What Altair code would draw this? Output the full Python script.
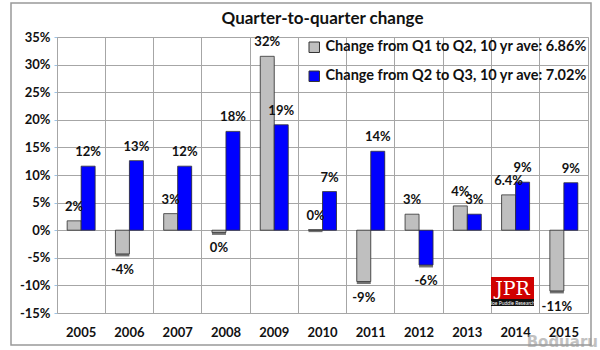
import altair as alt
import pandas as pd

years = ["2005", "2006", "2007", "2008", "2009", "2010", "2011", "2012", "2013", "2014", "2015"]
q1q2 = [1.7, -4.3, 3.0, -0.4, 31.5, 0.1, -9.3, 2.9, 4.4, 6.4, -11.0]
q2q3 = [11.6, 12.6, 11.6, 17.9, 19.1, 7.0, 14.3, -6.3, 2.9, 8.7, 8.6]
q1q2_labels = ["2%", "-4%", "3%", "0%", "32%", "0%", "-9%", "3%", "4%", "6.4%", "-11%"]
q2q3_labels = ["12%", "13%", "12%", "18%", "19%", "7%", "14%", "-6%", "3%", "9%", "9%"]
series_names = ["Change from Q1 to Q2, 10 yr ave: 6.86%", "Change from Q2 to Q3, 10 yr ave: 7.02%"]
series_colors = ["#BFBFBF", "#0000FF"]
y_ticks = [-15, -10, -5, 0, 5, 10, 15, 20, 25, 30, 35]
title_text = "Quarter-to-quarter change"

rows = []
for y, v, l in zip(years, q1q2, q1q2_labels):
    rows.append({"year": y, "value": v, "label": l, "series": series_names[0], "pos": v >= 0})
for y, v, l in zip(years, q2q3, q2q3_labels):
    rows.append({"year": y, "value": v, "label": l, "series": series_names[1], "pos": v >= 0})
df = pd.DataFrame(rows)

FONT = "Lato"
W, H = 531, 276

xenc = alt.X("year:N", sort=years, title=None,
             scale=alt.Scale(paddingInner=0, paddingOuter=0),
             axis=alt.Axis(bandPosition=0, grid=True, gridColor="#A6A6A6",
                           gridWidth=1, ticks=False, domain=False, labelAngle=0,
                           labelFont=FONT, labelFontSize=13, labelFontWeight="bold",
                           labelColor="#111", labelPadding=13))
xoff = alt.XOffset("series:N", sort=series_names,
                   scale=alt.Scale(paddingInner=0, paddingOuter=0.725))
yenc = alt.Y("value:Q", title=None,
             scale=alt.Scale(domain=[-15, 35], nice=False, zero=False),
             axis=alt.Axis(values=y_ticks, labelExpr="datum.value + '%'",
                           labelOverlap=False,
                           grid=True, gridColor="#A6A6A6", gridWidth=1,
                           ticks=True, tickSize=3, tickColor="#9DC3E6",
                           domain=True, domainColor="#A6A6A6",
                           labelFont=FONT, labelFontSize=13, labelFontWeight="bold",
                           labelColor="#111", labelPadding=4))

color = alt.Color("series:N", sort=series_names,
                  scale=alt.Scale(domain=series_names, range=series_colors),
                  legend=alt.Legend(title=None, orient="none", legendX=250, legendY=3,
                                    symbolType="square", symbolSize=110,
                                    symbolStrokeColor="#333", symbolStrokeWidth=1,
                                    labelFont=FONT, labelFontSize=14.5, labelFontWeight="bold",
                                    labelColor="#111", rowPadding=13, labelLimit=400))

base = alt.Chart(df)

shadow = base.mark_bar(color="#000", opacity=0.55, xOffset=2.5, yOffset=2.5).encode(
    x=xenc, xOffset=xoff, y=yenc, y2=alt.datum(0)
)
bars = base.mark_bar(stroke="#333", strokeWidth=0.8).encode(
    x=xenc, xOffset=xoff, y=yenc, y2=alt.datum(0), color=color
)
pos_text = base.transform_filter("datum.pos").mark_text(
    baseline="bottom", dy=-7, font=FONT, fontSize=13, fontWeight="bold", color="#111"
).encode(x=xenc, xOffset=xoff, y=yenc, text="label:N")
neg_text = base.transform_filter("!datum.pos").mark_text(
    baseline="top", dy=10, font=FONT, fontSize=13, fontWeight="bold", color="#111"
).encode(x=xenc, xOffset=xoff, y=yenc, text="label:N")

# decorations: title, outer frame, logo, watermark
deco = pd.DataFrame({"k": [0]})
title = alt.Chart(deco).mark_text(text=title_text, font=FONT, fontSize=17, fontWeight="bold",
                                  color="#111", baseline="middle", align="center").encode(
    x=alt.value(W / 2), y=alt.value(-18)
)
frame = alt.Chart(deco).mark_rect(fill=None, stroke="#999", strokeWidth=1.5).encode(
    x=alt.value(-46), x2=alt.value(534), y=alt.value(-34), y2=alt.value(308)
)
logo_red = alt.Chart(deco).mark_rect(color="#D00000").encode(
    x=alt.value(434), x2=alt.value(477), y=alt.value(240), y2=alt.value(263)
)
logo_black = alt.Chart(deco).mark_rect(color="#111").encode(
    x=alt.value(434), x2=alt.value(477), y=alt.value(262), y2=alt.value(269)
)
logo_text = alt.Chart(deco).mark_text(text="JPR", font="DejaVu Serif", fontSize=19,
                                      color="white", baseline="middle").encode(
    x=alt.value(455.5), y=alt.value(252)
)
logo_sub = alt.Chart(deco).mark_text(text="Joe Puddle Research", font=FONT, fontSize=5,
                                     color="white", baseline="middle").encode(
    x=alt.value(455.5), y=alt.value(265.5)
)
watermark = alt.Chart(deco).mark_text(text="Boduaru", font="DejaVu Sans", fontSize=15,
                                      fontWeight="bold", color="#999", opacity=0.6,
                                      baseline="middle", align="right").encode(
    x=alt.value(541), y=alt.value(305)
)

chart = alt.layer(frame, shadow, bars, pos_text, neg_text, logo_red, logo_black,
                  logo_text, logo_sub, watermark, title).properties(
    width=W, height=H,
    autosize=alt.AutoSizeParams(type="none"),
    padding={"left": 57, "top": 37, "right": 12, "bottom": 37},
    background="white",
).configure_view(stroke="#A6A6A6", strokeWidth=1)

chart.save("out.html", embed_options={"renderer": "svg", "actions": False})
